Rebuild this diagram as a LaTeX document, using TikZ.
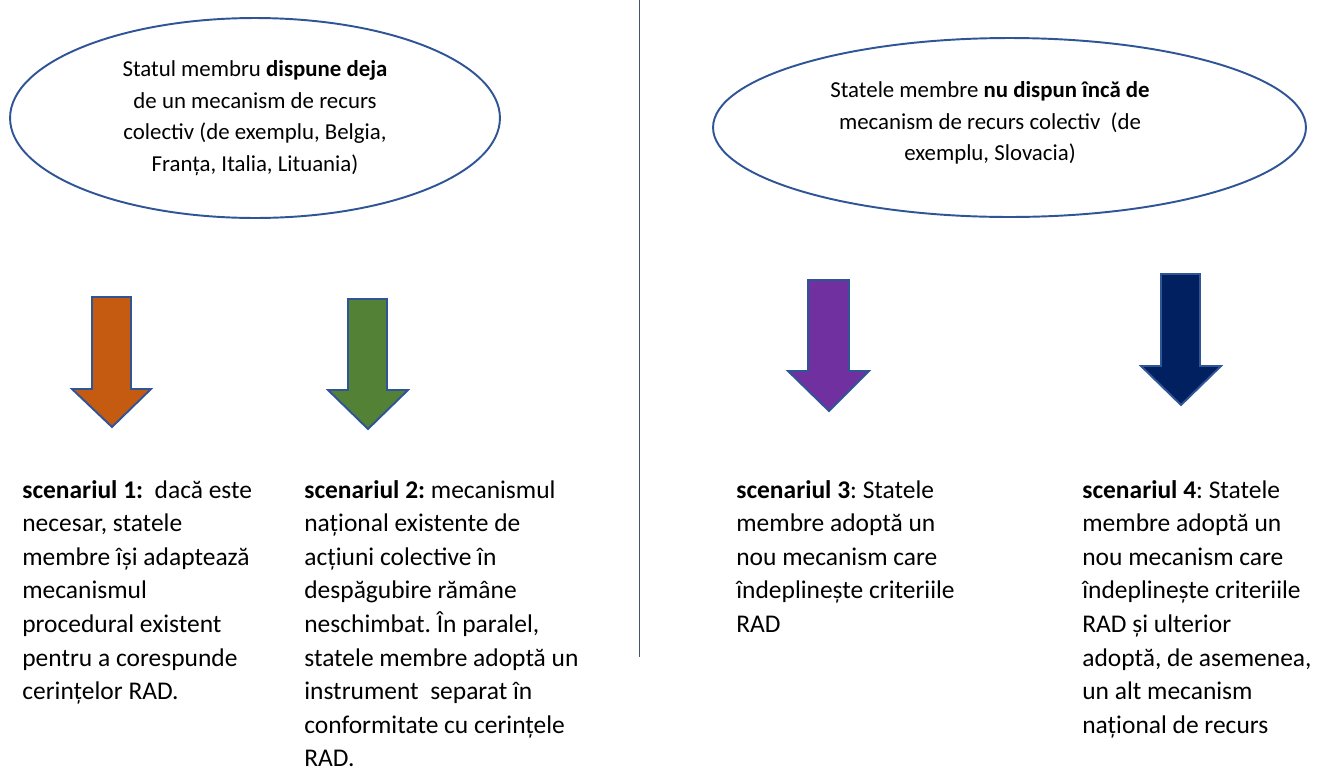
\documentclass[tikz,border=0pt]{standalone}
\usepackage{fontspec}
\setmainfont{Carlito}
\frenchspacing
\usetikzlibrary{shapes.geometric}
\definecolor{ovaledge}{HTML}{2F5597}
\definecolor{arrowedge}{HTML}{2F5597}
\definecolor{adaptcolor}{HTML}{C55A11}
\definecolor{keepcolor}{HTML}{538135}
\definecolor{newcolor}{HTML}{7030A0}
\definecolor{extracolor}{HTML}{002060}
\definecolor{divider}{HTML}{44546A}
\tikzset{
  oval/.style={
    ellipse,
    draw=ovaledge,
    line width=1.1pt,
    fill=white,
    inner sep=0pt
  },
  ovaltext/.style={
    align=center,
    inner sep=0pt,
    font=\fontsize{13}{17.9}\selectfont
  },
  scenario/.style={
    anchor=north west,
    inner sep=0pt,
    align=left,
    font=\fontsize{14.5}{19.1}\selectfont
  },
  blockarrow/.style={
    draw=arrowedge,
    line width=1.1pt,
    line join=miter
  },
  divide/.style={
    draw=divider,
    line width=0.8pt
  }
}

\begin{document}
\begin{tikzpicture}[x=0.02cm,y=-0.02cm]

  \useasboundingbox (0,0) rectangle (1322,778);

  % Left half: states that already have a mechanism.
  \node[oval,minimum width=9.8cm,minimum height=4.0cm] (hasoval) at (255,118) {};
  \node[ovaltext] (hastext) at (hasoval.center)
    {Statul membru \textbf{dispune deja}\\de un mecanism de recurs\\colectiv (de exemplu, Belgia,\\Franța, Italia, Lituania)};

  % Right half: states without a mechanism yet.
  \node[oval,minimum width=11.86cm,minimum height=3.58cm] (notoval) at (1009.5,127.5) {};
  \node[ovaltext] (nottext) at (990,123)
    {Statele membre \textbf{nu dispun încă de}\\mecanism de recurs colectiv~~(de\\exemplu, Slovacia)};

  \coordinate (divtop) at (639.5,0);
  \coordinate (divbot) at (639.5,657);
  \draw[divide] (divtop) -- (divbot);

  % Block arrows.
  \draw[blockarrow,fill=adaptcolor]
    (92,297) -- (131,297) -- (131,389) -- (151,389) -- (112,427) -- (72,389) -- (92,389) -- cycle;
  \draw[blockarrow,fill=keepcolor]
    (348,299) -- (387,299) -- (387,390) -- (408,390) -- (368,429) -- (328,390) -- (348,390) -- cycle;
  \draw[blockarrow,fill=newcolor]
    (808,280) -- (849,280) -- (849,371) -- (869,371) -- (829,411) -- (788,371) -- (808,371) -- cycle;
  \draw[blockarrow,fill=extracolor]
    (1161,274) -- (1200,274) -- (1200,366) -- (1221,366) -- (1181,405) -- (1141,366) -- (1161,366) -- cycle;

  % Scenario texts.
  \node[scenario] (scen1) at (22,480)
    {\textbf{scenariul 1:}~~dacă este\\necesar, statele\\membre își adaptează\\mecanismul\\procedural existent\\pentru a corespunde\\cerințelor RAD.};
  \node[scenario] (scen2) at (304,480)
    {\textbf{scenariul 2:} mecanismul\\național existente de\\acțiuni colective în\\despăgubire rămâne\\neschimbat. În paralel,\\statele membre adoptă un\\instrument~~separat în\\conformitate cu cerințele\\RAD.};
  \node[scenario] (scen3) at (736,480)
    {\textbf{scenariul 3}: Statele\\membre adoptă un\\nou mecanism care\\îndeplinește criteriile\\RAD};
  \node[scenario] (scen4) at (1082,480)
    {\textbf{scenariul 4}: Statele\\membre adoptă un\\nou mecanism care\\îndeplinește criteriile\\RAD și ulterior\\adoptă, de asemenea,\\un alt mecanism\\național de recurs};

\end{tikzpicture}
\end{document}
